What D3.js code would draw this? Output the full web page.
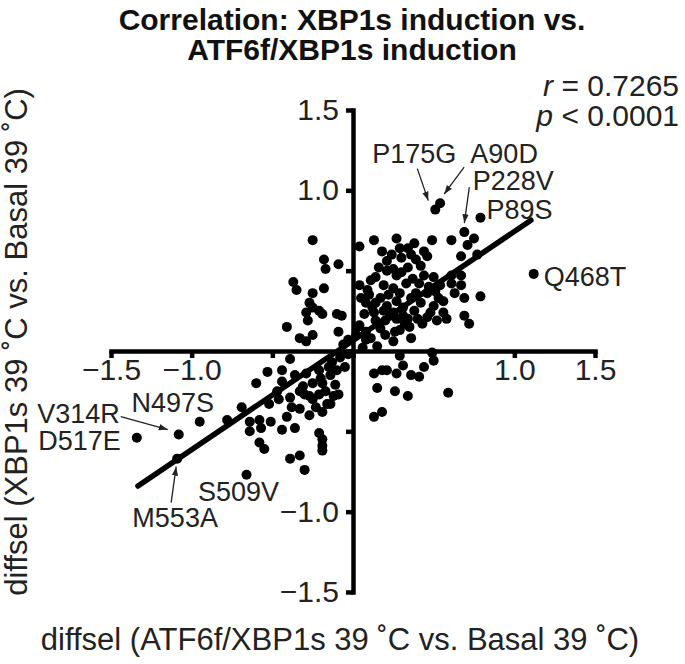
<!DOCTYPE html>
<html><head><meta charset="utf-8">
<script src="https://cdn.jsdelivr.net/npm/d3@7"></script>
<style>body{margin:0;background:#fff}svg{display:block;font-family:"Liberation Sans",Arial,sans-serif}</style>
</head><body><svg id="c" width="685" height="664"></svg>
<script>
const xVals = [0.04,0.13,0.27,0.38,0.49,0.61,0.69,0.75,0.71,0.67,0.77,0.34,0.44,0.46,0.30,0.21,0.39,0.34,0.42,0.16,0.21,0.27,0.14,0.44,0.50,0.61,0.67,0.67,0.61,0.54,0.04,0.09,0.19,0.25,0.33,0.39,0.46,0.63,0.69,0.79,0.56,0.05,0.08,0.14,0.21,0.27,0.36,0.42,0.50,0.13,0.19,0.25,0.31,0.38,0.48,0.56,0.14,0.20,0.27,0.34,0.43,0.58,0.69,0.72,0.04,0.08,0.17,0.26,0.36,0.25,0.08,0.02,
0.10,0.12,0.17,0.22,0.23,0.29,0.31,0.32,0.29,0.35,0.40,0.41,0.47,0.51,0.53,0.46,0.52,0.18,0.24,0.29,0.36,0.25,0.30,0.37,0.11,0.07,0.11,0.20,0.15,0.06,
0.51,0.54,0.79,1.12,
-0.25,-0.18,-0.17,-0.09,-0.37,-0.35,-0.25,-0.18,-0.27,-0.25,-0.29,-0.21,-0.19,-0.28,-0.10,-0.41,-0.33,-0.25,-0.09,-0.29,-0.06,-0.03,-0.07,0.03,
-0.39,-0.53,-0.44,-0.60,-0.44,-0.36,-0.29,-0.21,-0.13,-0.14,-0.31,-0.25,-0.19,-0.69,-0.78,-0.52,-0.46,-0.39,-0.38,-0.33,-0.27,-0.21,-0.23,-0.16,-0.19,-0.64,-0.58,-0.51,-0.41,-0.64,-0.57,-0.44,-0.36,-0.58,-0.55,-0.21,-0.19,-0.19,-0.19,-0.39,-0.33,-0.30,-0.66,-1.34,-1.08,-0.95,-1.09,-0.08,-0.11,-0.09,-0.17,-0.27,-0.30,
-0.05,-0.10,-0.15,-0.20,-0.12,-0.14,-0.25,-0.33,-0.47,-0.03,
0.29,0.49,0.50,0.31,0.44,0.13,0.18,0.21,0.27,0.36,0.41,0.15,0.26,0.34,0.59,0.13,0.18];
const yVals = [0.65,0.69,0.70,0.67,0.69,0.69,0.74,0.70,0.66,0.59,0.60,0.64,0.62,0.59,0.58,0.56,0.57,0.52,0.53,0.52,0.50,0.47,0.46,0.47,0.46,0.47,0.47,0.41,0.42,0.41,0.41,0.38,0.41,0.39,0.42,0.36,0.36,0.36,0.33,0.34,0.31,0.33,0.30,0.30,0.28,0.31,0.33,0.30,0.28,0.24,0.25,0.24,0.27,0.25,0.24,0.24,0.19,0.19,0.20,0.20,0.17,0.20,0.22,0.17,0.16,0.12,0.14,0.12,0.08,0.06,0.07,0.10,
0.35,0.27,0.33,0.35,0.22,0.36,0.22,0.17,0.13,0.15,0.20,0.42,0.40,0.37,0.33,0.21,0.19,0.62,0.60,0.64,0.60,0.51,0.49,0.45,0.44,0.23,0.08,0.10,0.03,0.02,
0.88,0.92,0.83,0.48,
0.69,0.57,0.51,0.54,0.43,0.38,0.36,0.39,0.30,0.27,0.24,0.25,0.23,0.19,0.23,0.15,0.08,0.10,0.12,0.06,0.04,0.07,0.22,0.15,
-0.05,-0.13,-0.12,-0.20,-0.19,-0.15,-0.14,-0.12,-0.07,-0.15,-0.22,-0.20,-0.20,-0.35,-0.43,-0.33,-0.30,-0.29,-0.35,-0.36,-0.28,-0.27,-0.35,-0.33,-0.38,-0.44,-0.43,-0.44,-0.41,-0.50,-0.48,-0.49,-0.48,-0.57,-0.61,-0.51,-0.55,-0.59,-0.62,-0.67,-0.65,-0.74,-0.77,-0.54,-0.52,-0.44,-0.67,-0.04,-0.21,-0.27,-0.25,-0.40,-0.27,
-0.10,-0.12,-0.10,-0.17,-0.28,-0.33,-0.30,-0.25,-0.25,-0.02,
-0.03,-0.01,-0.06,-0.09,-0.10,-0.14,-0.12,-0.12,-0.14,-0.15,-0.16,-0.23,-0.25,-0.28,-0.26,-0.41,-0.38];
const tickValues = [-1.5,-1.0,-0.5,0,0.5,1.0,1.5];
const fitCoef = [0.679, 0.065];       // slope, intercept
const fitRange = [-1.333, 1.103];
const titleLines = ["Correlation: XBP1s induction vs.", "ATF6f/XBP1s induction"];
const statR = "0.7265", statP = "< 0.0001";
const xTitle = "diffsel (ATF6f/XBP1s 39 ˚C vs. Basal 39 ˚C)";
const yTitle = "diffsel (XBP1s 39 ˚C vs. Basal 39 ˚C)";
const labelNames = ["P175G","A90D","P228V","P89S","Q468T","V314R","N497S","D517E","S509V","M553A"];
const labelX = [0.51,0.54,0.69,0.79,1.12,-1.08,-0.95,-1.34,-0.66,-1.09];
const labelY = [0.88,0.92,0.74,0.83,0.48,-0.52,-0.44,-0.54,-0.77,-0.67];

// label layout (pixel offsets from the point)
const labelLayout = [
 {dx:-21,dy:-56,a:"middle",arrow:[-18,-41,-7,-9]},
 {dx:64,dy:-50,a:"middle",arrow:[24,-36,4,-9]},
 {dx:49,dy:-52,a:"middle",arrow:[5,-45,0,-9]},
 {dx:39,dy:-8,a:"middle"},
 {dx:10,dy:2,a:"start"},
 {dx:-59,dy:-21,a:"end",arrow:[-58,-18,-11,-5]},
 {dx:-27,dy:-19,a:"middle"},
 {dx:-16,dy:3,a:"end"},
 {dx:-8,dy:17,a:"middle"},
 {dx:-2,dy:59,a:"middle",arrow:[-6,44,-1,8]}
];

const svg = d3.select("#c");
const x = d3.scaleLinear().domain([-1.5,1.5]).range([111,595]);
const y = d3.scaleLinear().domain([-1.5,1.5]).range([592,110]);
const fmt = d => Math.abs(d) >= 1 ? d3.format(".1f")(d) : "";

const defs = svg.append("defs");
defs.append("marker").attr("id","ah").attr("viewBox","0 0 10 10").attr("refX",10).attr("refY",5)
  .attr("markerWidth",9).attr("markerHeight",9).attr("markerUnits","userSpaceOnUse").attr("orient","auto")
  .append("path").attr("d","M0,1.5 L10,5 L0,8.5 Z").attr("fill","#222");

// points
svg.append("g").selectAll("circle").data(xVals.map((v,i)=>[v,yVals[i]])).join("circle")
  .attr("cx",d=>x(d[0])).attr("cy",d=>y(d[1])).attr("r",5).attr("fill","#000");

// axes
const xAxis = svg.append("g").attr("transform",`translate(0,${y(0)})`)
  .call(d3.axisBottom(x).tickValues(tickValues).tickFormat(fmt).tickSize(7).tickSizeOuter(0).tickPadding(1));
const yAxis = svg.append("g").attr("transform",`translate(${x(0)},0)`)
  .call(d3.axisLeft(y).tickValues(tickValues).tickFormat(fmt).tickSize(7).tickSizeOuter(0).tickPadding(7));
[xAxis,yAxis].forEach(g=>{
  g.select(".domain").attr("stroke","#000").attr("stroke-width",4.5).attr("stroke-linecap","square");
  g.selectAll(".tick line").attr("stroke","#000").attr("stroke-width",4.5);
  g.selectAll(".tick text").attr("font-size",30).attr("fill","#222").attr("font-family","Liberation Sans, Arial, sans-serif");
});

// fit line
svg.append("line")
  .attr("x1",x(fitRange[0])).attr("y1",y(fitCoef[0]*fitRange[0]+fitCoef[1]))
  .attr("x2",x(fitRange[1])).attr("y2",y(fitCoef[0]*fitRange[1]+fitCoef[1]))
  .attr("stroke","#000").attr("stroke-width",5.5).attr("stroke-linecap","round");

// labels
labelNames.forEach((n,i)=>{
  const px = x(labelX[i]), py = y(labelY[i]), L = labelLayout[i];
  svg.append("text").attr("x",px+L.dx).attr("y",py+L.dy).attr("dy","0.36em")
    .attr("text-anchor",L.a).attr("font-size",27).attr("fill","#222").text(n);
  if (L.arrow) svg.append("line").attr("x1",px+L.arrow[0]).attr("y1",py+L.arrow[1])
    .attr("x2",px+L.arrow[2]).attr("y2",py+L.arrow[3]).attr("stroke","#222").attr("stroke-width",1.3)
    .attr("marker-end","url(#ah)");
});

// title
svg.append("text").attr("x",352).attr("y",30).attr("text-anchor","middle").attr("font-size",30).attr("font-weight","bold").attr("fill","#111").text(titleLines[0]);
svg.append("text").attr("x",352).attr("y",60).attr("text-anchor","middle").attr("font-size",30).attr("font-weight","bold").attr("fill","#111").text(titleLines[1]);

// stats
const tr = svg.append("text").attr("x",679).attr("y",96).attr("text-anchor","end").attr("font-size",30).attr("fill","#222");
tr.append("tspan").attr("font-style","italic").text("r"); tr.append("tspan").text(" = "+statR);
const tp = svg.append("text").attr("x",679).attr("y",126).attr("text-anchor","end").attr("font-size",30).attr("fill","#222");
tp.append("tspan").attr("font-style","italic").text("p"); tp.append("tspan").text(" "+statP);

// axis titles
svg.append("text").attr("x",340).attr("y",650).attr("text-anchor","middle").attr("font-size",31).attr("fill","#222").text(xTitle);
svg.append("text").attr("transform","translate(27,342) rotate(-90)").attr("text-anchor","middle").attr("font-size",31).attr("fill","#222").text(yTitle);
</script></body></html>
